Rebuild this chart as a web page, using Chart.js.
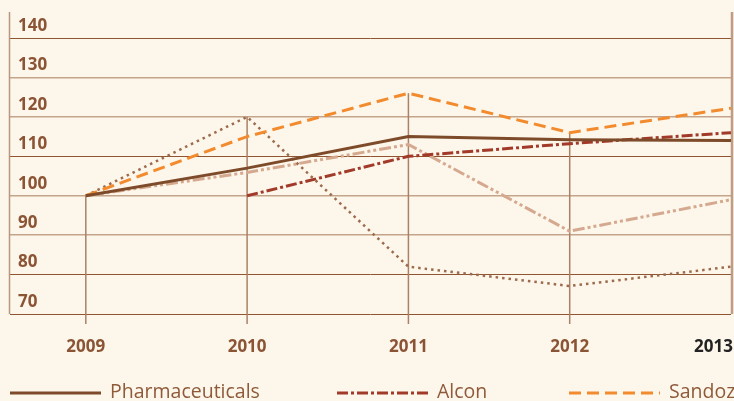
<!DOCTYPE html>
<html>
<head>
<meta charset="utf-8">
<script src="https://cdn.jsdelivr.net/npm/chart.js@4/dist/chart.umd.min.js"></script>
<style>
  html, body { margin: 0; padding: 0; background: #FDF6EA; }
  #wrap { width: 734px; height: 401px; position: relative; overflow: hidden; }
  canvas { display: block; }
</style>
</head>
<body>
<div id="wrap"><canvas id="c" width="734" height="401"></canvas></div>
<script>
// ---- data ----
const years = [2009, 2010, 2011, 2012, 2013];
const yTicks = [70, 80, 90, 100, 110, 120, 130, 140];
const seriesNames = ['Pharmaceuticals', 'Alcon', 'Sandoz', 'Series 4', 'Series 5'];
const pharmaceuticals = [100, 107, 115, 114.2, 114];
const alcon = [null, 100, 110, 113.2, 116];
const sandoz = [100, 115, 126, 116, 122.2];
const series4 = [100, 120, 82, 77.1, 82];
const series5 = [100, 105.9, 113, 91, 99];

const BG = '#FDF6EA';
const TXT = '#8B5434';
const FONT = '"Open Sans", "Liberation Sans", sans-serif';

function pts(vals) { return years.map((y, i) => ({ x: y, y: vals[i] })); }

const styles = [
  { color: '#7D4B2A', dash: [], width: 3 },
  { color: '#A23A2A', dash: [11, 3, 3, 3], width: 3 },
  { color: '#F28A2E', dash: [12, 6], width: 3 },
  { color: '#9C6A4C', dash: [2.5, 4], width: 2.5 },
  { color: '#D5A98F', dash: [12, 3, 3, 3, 3, 3], width: 3 }
];
const allVals = [pharmaceuticals, alcon, sandoz, series4, series5];

const datasets = allVals.map((v, i) => ({
  label: seriesNames[i],
  data: pts(v),
  borderColor: styles[i].color,
  borderDash: styles[i].dash,
  borderWidth: styles[i].width,
  pointRadius: 0,
  fill: false,
  tension: 0,
  spanGaps: false
}));

const bgPlugin = {
  id: 'bg',
  beforeDraw(chart) {
    const ctx = chart.ctx;
    ctx.save();
    ctx.fillStyle = BG;
    ctx.fillRect(0, 0, chart.width, chart.height);
    ctx.restore();
  }
};

const decoPlugin = {
  id: 'deco',
  beforeDatasetsDraw(chart) {
    const { ctx, chartArea: a, scales: { x, y } } = chart;
    ctx.save();
    ctx.strokeStyle = '#A98166';
    ctx.lineWidth = 1.5;
    years.forEach((yr, i) => {
      if (i === years.length - 1) return;
      let mx = -Infinity;
      allVals.forEach(v => { if (v[i] != null && v[i] > mx) mx = v[i]; });
      const px = x.getPixelForValue(yr);
      ctx.beginPath();
      ctx.moveTo(px, y.getPixelForValue(mx));
      ctx.lineTo(px, a.bottom + 10);
      ctx.stroke();
    });
    ctx.strokeStyle = '#B8977E';
    ctx.lineWidth = 1.5;
    ctx.beginPath();
    ctx.moveTo(a.left - 0.5, a.top);
    ctx.lineTo(a.left - 0.5, a.bottom);
    ctx.stroke();
    ctx.strokeStyle = '#BE9D84';
    ctx.lineWidth = 2.5;
    ctx.beginPath();
    ctx.moveTo(a.right + 1, a.top);
    ctx.lineTo(a.right + 1, a.bottom);
    ctx.stroke();
    ctx.restore();
  },
  afterDraw(chart) {
    const { ctx, chartArea: a, scales: { x } } = chart;
    ctx.save();
    ctx.font = 'bold 17px ' + FONT;
    ctx.textBaseline = 'middle';
    years.forEach((yr, i) => {
      const px = x.getPixelForValue(yr);
      const last = i === years.length - 1;
      ctx.fillStyle = last ? '#222222' : TXT;
      ctx.textAlign = last ? 'right' : 'center';
      ctx.fillText(String(yr), last ? chart.width - 1 : px, a.bottom + 33);
    });
    const starts = [10, 337, 569];
    ctx.font = '19.5px ' + FONT;
    ctx.textAlign = 'left';
    starts.forEach((sx, i) => {
      const ly = 393;
      ctx.strokeStyle = styles[i].color;
      ctx.lineWidth = 3;
      ctx.setLineDash(styles[i].dash);
      ctx.beginPath();
      ctx.moveTo(sx, ly);
      ctx.lineTo(sx + 91, ly);
      ctx.stroke();
      ctx.setLineDash([]);
      ctx.fillStyle = '#8E5A3A';
      ctx.fillText(seriesNames[i], sx + 100, ly - 1);
    });
    ctx.restore();
  }
};

const darkGrid = [140, 110, 80, 70];

new Chart(document.getElementById('c'), {
  type: 'line',
  data: { datasets },
  options: {
    responsive: false,
    animation: false,
    events: [],
    layout: { autoPadding: false, padding: { left: 10, right: 3, top: 12, bottom: 87 } },
    plugins: { legend: { display: false }, tooltip: { enabled: false } },
    scales: {
      x: {
        type: 'linear',
        min: 2008.53,
        max: 2013,
        display: true,
        ticks: { display: false },
        grid: { display: false },
        border: { display: false },
        afterBuildTicks(s) { s.ticks = years.map(v => ({ value: v })); },
        afterFit(s) { s.height = 0; s.paddingLeft = 0; s.paddingRight = 0; s.paddingTop = 0; s.paddingBottom = 0; }
      },
      y: {
        type: 'linear',
        min: 70,
        max: 146.6,
        afterBuildTicks(s) { s.ticks = yTicks.map(v => ({ value: v })); },
        afterFit(s) { s.width = 0; s.paddingTop = 0; s.paddingBottom = 0; s.paddingLeft = 0; s.paddingRight = 0; },
        ticks: {
          mirror: true,
          padding: 8,
          labelOffset: -12,
          color: TXT,
          font: { family: FONT, size: 17, weight: 'bold' }
        },
        grid: {
          drawTicks: false,
          color: c => darkGrid.includes(c.tick && c.tick.value) ? '#8E5530' : '#C4A58C',
          lineWidth: c => darkGrid.includes(c.tick && c.tick.value) ? 1 : 1.6
        },
        border: { display: false }
      }
    }
  },
  plugins: [bgPlugin, decoPlugin]
});
</script>
</body>
</html>
